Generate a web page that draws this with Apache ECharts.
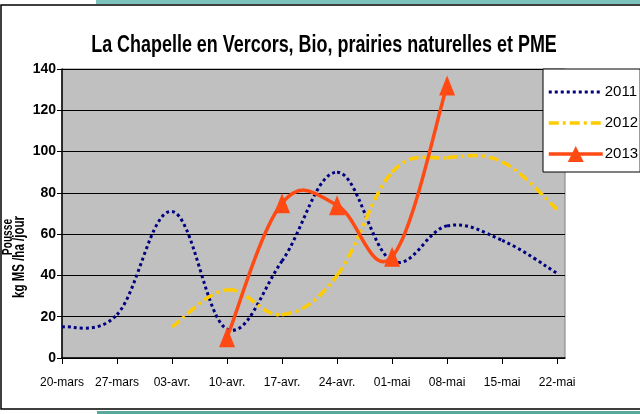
<!DOCTYPE html>
<html><head><meta charset="utf-8">
<script src="https://cdn.jsdelivr.net/npm/echarts@6/dist/echarts.min.js"></script>
<style>html,body{margin:0;padding:0;background:#fff;}#c{width:640px;height:414px;}</style>
</head><body><div id="c"></div>
<script>
// ---- data ----
const xLabels = ['20-mars','27-mars','03-avr.','10-avr.','17-avr.','24-avr.','01-mai','08-mai','15-mai','22-mai'];
const xDays = [0,7,14,21,28,35,42,49,56,63];
const s2011 = [15, 21, 71, 14, 47, 90, 47, 64, 57, 41];
const s2012 = [null, null, 15, 33, 21, 40, 90, 97, 95, 72];
const s2013 = [null, null, null, 10, 75, 74, 49, 132, null, null];
const seriesNames = ['2011','2012','2013'];
const titleText = 'La Chapelle en Vercors, Bio, prairies naturelles et PME';
const yNameTop = 'Pousse';
const yNameBottom = 'kg MS /ha /jour';

const FONT = "'Liberation Sans','Arial',sans-serif";
const C2011 = '#000080', C2012 = '#FFCC00', C2013 = '#FF4A14';
function pairs(arr){ const out=[]; arr.forEach((v,i)=>{ if(v!==null) out.push([xDays[i],v]); }); return out; }
const p2011 = pairs(s2011), p2012 = pairs(s2012), p2013 = pairs(s2013);

// smoothed curve (Excel-like cardinal spline), positions through api.coord
function curveRenderer(pts, style){
  const k = 0.19;
  return function(params, api){
    const i = params.dataIndex;
    if (i >= pts.length-1) return null;
    const P = pts.map(p=>api.coord(p));
    const p0 = P[Math.max(i-1,0)], p1 = P[i], p2 = P[i+1], p3 = P[Math.min(i+2,P.length-1)];
    return {type:'bezierCurve',
      shape:{x1:p1[0], y1:p1[1], x2:p2[0], y2:p2[1],
        cpx1:p1[0]+(p2[0]-p0[0])*k, cpy1:p1[1]+(p2[1]-p0[1])*k,
        cpx2:p2[0]-(p3[0]-p1[0])*k, cpy2:p2[1]-(p3[1]-p1[1])*k},
      style:Object.assign({fill:null}, style), silent:true};
  };
}

const chart = echarts.init(document.getElementById('c'), null, {renderer:'canvas'});
chart.setOption({
  animation:false,
  backgroundColor:'#fff',
  grid:{left:62, right:75, top:69, bottom:56, show:true, backgroundColor:'#C0C0C0', borderColor:'#808080', borderWidth:1},
  legend:{orient:'vertical', left:543, top:69,
    data:[
      {name:'2011', itemStyle:{opacity:0}, lineStyle:{opacity:1, width:3, color:C2011, type:[3,3]}},
      {name:'2012', itemStyle:{opacity:0}, lineStyle:{opacity:1, width:3.5, color:C2012, type:[10,4,3,4]}},
      {name:'2013', lineStyle:{opacity:1, width:3.5, color:C2013}}
    ],
    backgroundColor:'#fff', borderColor:'#000', borderWidth:1, borderRadius:0,
    padding:[15,2,10,4], itemGap:15, itemWidth:54, itemHeight:20,
    textStyle:{fontFamily:FONT, fontSize:15, color:'#000', padding:[0,0,0,-3]}},
  xAxis:{type:'value', min:0, max:64,
    axisLine:{lineStyle:{color:'#000', width:1.5}},
    axisTick:{show:true, customValues:xDays, length:6, lineStyle:{color:'#000'}},
    axisLabel:{customValues:xDays, margin:19, fontFamily:FONT, fontSize:12, color:'#000',
      formatter:(v)=>xLabels[xDays.indexOf(v)]},
    splitLine:{show:false}},
  yAxis:{type:'value', min:0, max:140, interval:20,
    axisLine:{show:true, lineStyle:{color:'#000', width:1.5}},
    axisTick:{show:true, length:5, lineStyle:{color:'#000'}},
    axisLabel:{margin:6, fontFamily:FONT, fontWeight:'bold', fontSize:14, color:'#000'},
    splitLine:{show:true, lineStyle:{color:'#000', width:1}}},
  graphic:[
    {type:'rect', shape:{x:1, y:5, width:700, height:404}, style:{fill:null, stroke:'#000', lineWidth:1.5}, silent:true, z:-1},
    {type:'rect', shape:{x:96, y:0, width:544, height:4}, style:{fill:'#7cc3bb'}, silent:true},
    {type:'rect', shape:{x:97, y:411, width:543, height:3}, style:{fill:'#5aa89c'}, silent:true},
    {type:'text', x:324, y:46, scaleX:0.78,
      style:{text:titleText, fontFamily:FONT, fontWeight:'bold', fontSize:23, fill:'#000', align:'center', verticalAlign:'middle'}},
    {type:'text', x:8, y:237, rotation:Math.PI/2, scaleX:0.68,
      style:{text:yNameTop, fontFamily:FONT, fontWeight:'bold', fontSize:15, fill:'#000', align:'center', verticalAlign:'middle'}},
    {type:'text', x:20, y:257, rotation:Math.PI/2, scaleX:0.72,
      style:{text:yNameBottom, fontFamily:FONT, fontWeight:'bold', fontSize:16, fill:'#000', align:'center', verticalAlign:'middle'}}
  ],
  series:[
    {name:'2011', type:'line', data:p2011, symbol:'none', color:C2011,
      lineStyle:{color:C2011, width:3, type:[3,3], opacity:0}, z:1},
    {name:'2012', type:'line', data:p2012, symbol:'none', color:C2012,
      lineStyle:{color:C2012, width:3.5, type:[10,4,3,4], opacity:0}, z:1},
    {name:'2013', type:'line', data:p2013, symbol:'triangle', symbolSize:[16,20], color:C2013,
      itemStyle:{color:C2013}, lineStyle:{color:C2013, width:3.5, opacity:0}, z:6},
    {name:'c2011', type:'custom', data:p2011, encode:{x:0,y:1}, z:2,
      renderItem:curveRenderer(p2011, {stroke:C2011, lineWidth:3, lineDash:[3,3]})},
    {name:'c2012', type:'custom', data:p2012, encode:{x:0,y:1}, z:3,
      renderItem:curveRenderer(p2012, {stroke:C2012, lineWidth:3.5, lineDash:[10,4,3,4]})},
    {name:'c2013', type:'custom', data:p2013, encode:{x:0,y:1}, z:4,
      renderItem:curveRenderer(p2013, {stroke:C2013, lineWidth:3.5})}
  ]
});
</script></body></html>
